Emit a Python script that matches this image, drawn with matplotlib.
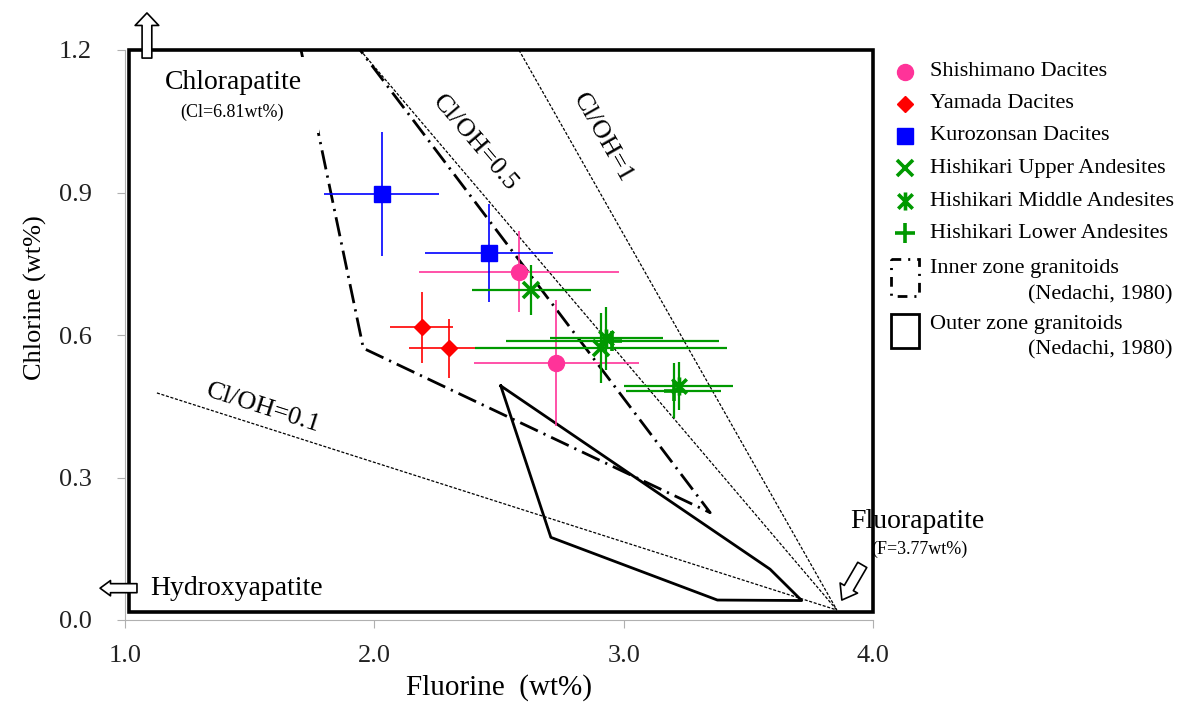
import matplotlib
matplotlib.use("Agg")
import matplotlib.pyplot as plt
from matplotlib.patches import Rectangle
from matplotlib.path import Path

# ---- data (F, Cl in wt%) ----
shishimano_f = [2.58, 2.73]
shishimano_cl = [0.733, 0.541]
shishimano_ferr = [0.40, 0.33]
shishimano_clerr = [0.085, 0.133]

yamada_f = [2.19, 2.30]
yamada_cl = [0.616, 0.572]
yamada_ferr = [0.127, 0.16]
yamada_clerr = [0.074, 0.062]

kurozonsan_f = [2.03, 2.46]
kurozonsan_cl = [0.897, 0.773]
kurozonsan_ferr = [0.23, 0.257]
kurozonsan_clerr = [0.13, 0.103]

upper_f = [2.63, 2.91]
upper_cl = [0.695, 0.573]
upper_ferr = [0.24, 0.505]
upper_clerr = [0.052, 0.073]

middle_f = [2.93, 3.22]
middle_cl = [0.593, 0.493]
middle_ferr = [0.226, 0.217]
middle_clerr = [0.066, 0.051]

lower_f = [2.955, 3.20]
lower_cl = [0.588, 0.483]
lower_ferr = [0.427, 0.19]
lower_clerr = [0.02, 0.058]

# Cl/OH reference lines, all meeting near the fluorapatite corner
fluor_pt = (3.855, 0.021)
cloh_1_start = (2.58, 1.2)
cloh_05_start = (1.943, 1.2)
cloh_01_start = (1.128, 0.478)

# granitoid fields (Nedachi, 1980)
inner_f = [1.706, 1.956, 3.347, 1.943]
inner_cl = [1.2, 0.572, 0.226, 1.2]
outer_f = [2.507, 2.708, 3.376, 3.714, 3.587, 2.507]
outer_cl = [0.493, 0.174, 0.042, 0.041, 0.107, 0.493]

plt.rcParams["font.family"] = ["Liberation Serif", "DejaVu Serif"]
plt.rcParams["lines.scale_dashes"] = False

W, H = 1179, 708
fig = plt.figure(figsize=(W / 100, H / 100), dpi=100)
ax = fig.add_axes([125 / W, 88 / H, 748 / W, 570 / H])
ax.set_xlim(1.0, 4.0)
ax.set_ylim(0.0, 1.2)

for s in ["top", "right"]:
    ax.spines[s].set_visible(False)
for s in ["left", "bottom"]:
    ax.spines[s].set_color("#b0b0b0")
    ax.spines[s].set_linewidth(0.8)

ax.set_xticks([1.0, 2.0, 3.0, 4.0])
ax.set_xticklabels(["1.0", "2.0", "3.0", "4.0"])
ax.set_yticks([0.0, 0.3, 0.6, 0.9, 1.2])
ax.set_yticklabels(["0.0", "0.3", "0.6", "0.9", "1.2"])
ax.tick_params(axis="x", direction="out", length=6, width=0.8, color="#b0b0b0",
               labelsize=19, labelcolor="#222222", pad=12)
ax.tick_params(axis="y", direction="out", length=6, width=0.8, color="#b0b0b0",
               labelsize=19, labelcolor="#222222", pad=18)

ax.set_xlabel("Fluorine  (wt%)", fontsize=21)
ax.set_ylabel("Chlorine (wt%)", fontsize=19)
ax.xaxis.set_label_coords(0.5, -0.095)
ax.yaxis.set_label_coords(-0.104, 0.565)

# thick frame
ax.add_patch(Rectangle((4 / 748, 8 / 570), 1 - 4 / 748, 1 - 8 / 570, transform=ax.transAxes,
                       fill=False, ec="black", lw=2.6, clip_on=False, zorder=6))

# reference lines
dotted = (0, (2.2, 1.2))
for p in [cloh_1_start, cloh_05_start, cloh_01_start]:
    ax.plot([p[0], fluor_pt[0]], [p[1], fluor_pt[1]], color="black", lw=0.9,
            linestyle=dotted, zorder=2)

ax.plot(inner_f, inner_cl, color="black", lw=2.0, linestyle=(0, (14, 4.5, 1.6, 4.5)), zorder=2)
ax.plot(outer_f, outer_cl, color="black", lw=2.0, zorder=2)

# samples
asterisk = Path([(-1, -1), (1, 1), (-1, 1), (1, -1), (0, -1.25), (0, 1.25)],
                [Path.MOVETO, Path.LINETO] * 3)
groups = [
    (shishimano_f, shishimano_cl, shishimano_ferr, shishimano_clerr, "#ff3399", "o", 11.5, 1.0),
    (yamada_f, yamada_cl, yamada_ferr, yamada_clerr, "#ff0000", "D", 8.5, 1.0),
    (kurozonsan_f, kurozonsan_cl, kurozonsan_ferr, kurozonsan_clerr, "#0000ff", "s", 11, 1.0),
    (upper_f, upper_cl, upper_ferr, upper_clerr, "#009900", "x", 12, 2.6),
    (middle_f, middle_cl, middle_ferr, middle_clerr, "#009900", asterisk, 13, 2.6),
    (lower_f, lower_cl, lower_ferr, lower_clerr, "#009900", "+", 14, 2.6),
]
for f, cl, fe, ce, col, mk, ms, mew in groups:
    lw = 1.6 if col == "#009900" else 1.2
    ax.errorbar(f, cl, xerr=fe, yerr=ce, fmt="none", ecolor=col, elinewidth=lw,
                capsize=0, zorder=3)
    ax.plot(f, cl, linestyle="none", marker=mk, ms=ms, color=col, mec=col, mew=mew, zorder=4)

# white text box behind the chlorapatite label (hides part of the inner field line)
ax.add_patch(Rectangle((1.10, 1.025), 0.68, 0.16, fc="white", ec="none", zorder=2.5))

# labels
ax.text(1.433, 1.132, "Chlorapatite", fontsize=20, ha="center", va="center", zorder=5)
ax.text(1.431, 1.069, "(Cl=6.81wt%)", fontsize=13, ha="center", va="center", zorder=5)
ax.text(1.10, 0.067, "Hydroxyapatite", fontsize=20, ha="left", va="center")
ax.text(3.908, 0.207, "Fluorapatite", fontsize=20, ha="left", va="center", clip_on=False)
ax.text(4.186, 0.149, "(F=3.77wt%)", fontsize=13, ha="center", va="center", clip_on=False)
ax.text(2.404, 1.004, "Cl/OH=0.5", fontsize=19, rotation=-49.6, rotation_mode="anchor",
        ha="center", va="center")
ax.text(2.917, 1.015, "Cl/OH=1", fontsize=19, rotation=-60.4, rotation_mode="anchor",
        ha="center", va="center")
ax.text(1.554, 0.446, "Cl/OH=0.1", fontsize=19, rotation=-17.7, rotation_mode="anchor",
        ha="center", va="center")

# end-member arrows
def hollow_arrow(tail, tip, hl, hw, tw):
    ax.annotate("", xy=tip, xytext=tail, annotation_clip=False,
                arrowprops=dict(arrowstyle="simple,head_length=%s,head_width=%s,tail_width=%s" % (hl, hw, tw),
                                mutation_scale=10, fc="white", ec="black", lw=1.2,
                                shrinkA=0, shrinkB=0), zorder=7)

hollow_arrow((1.088, 1.183), (1.088, 1.278), 0.9, 1.7, 0.7)
hollow_arrow((1.048, 0.067), (0.90, 0.067), 0.75, 1.1, 0.65)
hollow_arrow((3.957, 0.116), (3.875, 0.042), 1.0, 1.45, 0.75)

# legend (figure pixel space)
lax = fig.add_axes([0, 0, 1, 1])
lax.set_xlim(0, W)
lax.set_ylim(H, 0)
lax.axis("off")

leg_names = ["Shishimano Dacites", "Yamada Dacites", "Kurozonsan Dacites",
             "Hishikari Upper Andesites", "Hishikari Middle Andesites", "Hishikari Lower Andesites"]
leg_rows = [72, 104, 136, 168, 201, 233]
leg_ms = [11.5, 8.5, 11, 12, 13, 14]
for (f, cl, fe, ce, col, mk, ms, mew), name, yy, lms in zip(groups, leg_names, leg_rows, leg_ms):
    lax.plot([905], [yy], linestyle="none", marker=mk, ms=lms, color=col, mec=col, mew=mew)
    lax.text(930, yy, name, fontsize=16, ha="left", va="center")

lax.add_patch(Rectangle((891, 259), 28, 37, fill=False, ec="black", lw=2.0,
                        linestyle=(0, (7, 5, 1.5, 5))))
lax.text(930, 268, "Inner zone granitoids", fontsize=16, ha="left", va="center")
lax.text(1173, 295, "(Nedachi, 1980)", fontsize=16, ha="right", va="center")
lax.add_patch(Rectangle((891, 314), 28, 34, fill=False, ec="black", lw=2.0))
lax.text(930, 324, "Outer zone granitoids", fontsize=16, ha="left", va="center")
lax.text(1173, 350, "(Nedachi, 1980)", fontsize=16, ha="right", va="center")

fig.savefig("out.png", dpi=100)
